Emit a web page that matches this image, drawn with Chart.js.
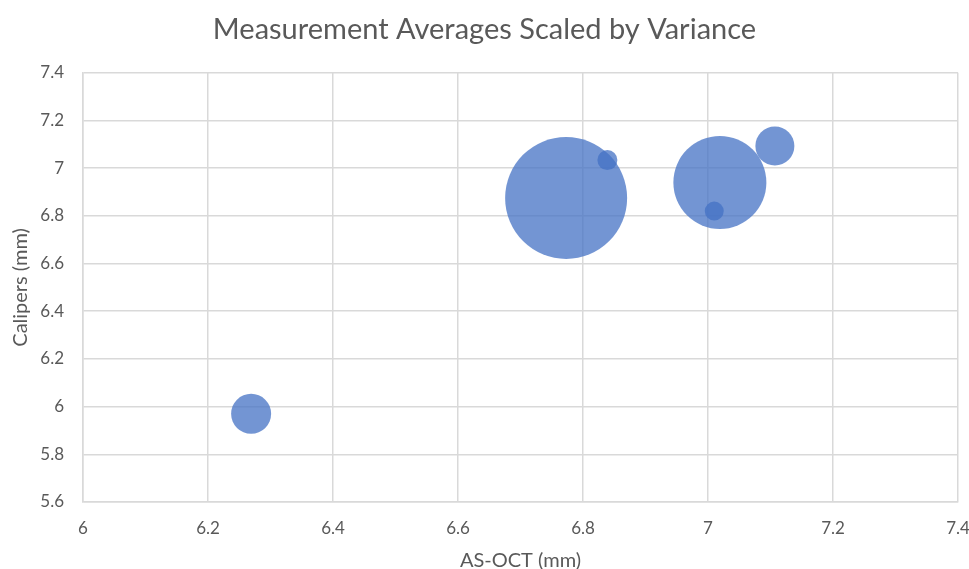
<!DOCTYPE html>
<html>
<head>
<meta charset="utf-8">
<script src="https://cdn.jsdelivr.net/npm/chart.js@4.4.0/dist/chart.umd.min.js"></script>
<style>
  html, body { margin: 0; padding: 0; background: #fff; }
  #wrap { width: 969px; height: 569px; }
</style>
</head>
<body>
<div id="wrap"><canvas id="bubbleChart" width="969" height="569"></canvas></div>
<script>
// ค่าเฉลี่ยจากภาพ: x = AS-OCT, y = Calipers, r = ขนาดฟอง (px ตาม variance)
const asOct    = [6.269, 6.773, 6.839, 7.019, 7.010, 7.107];
const calipers = [5.970, 6.875, 7.034, 6.940, 6.820, 7.093];
const bubbleR  = [20, 61, 10, 46.5, 9.5, 19.5];

const xTicks = [6, 6.2, 6.4, 6.6, 6.8, 7, 7.2, 7.4];
const yTicks = [5.6, 5.8, 6, 6.2, 6.4, 6.6, 6.8, 7, 7.2, 7.4];

const TEXT = '#595959';
const GRID = '#d9d9d9';
const FONT = 'Lato, "Open Sans", sans-serif';

const points = asOct.map((x, i) => ({ x, y: calipers[i], r: bubbleR[i] }));

new Chart(document.getElementById('bubbleChart'), {
  type: 'bubble',
  data: {
    datasets: [{
      data: points,
      backgroundColor: 'rgba(68,114,196,0.75)',
      borderColor: 'rgba(68,114,196,0)',
      borderWidth: 0
    }]
  },
  options: {
    responsive: false,
    animation: false,
    // ปิด autoPadding ไม่งั้น plot หดเพราะรัศมีฟองใหญ่
    layout: { autoPadding: false, padding: 0 },
    plugins: {
      legend: { display: false },
      tooltip: { enabled: false },
      title: {
        display: true,
        text: 'Measurement Averages Scaled by Variance',
        color: TEXT,
        font: { family: FONT, size: 29, weight: 'normal' },
        padding: { top: 12, bottom: 26 }
      }
    },
    scales: {
      x: {
        type: 'linear',
        min: 6, max: 7.4,
        afterBuildTicks: s => { s.ticks = xTicks.map(v => ({ value: v })); },
        afterFit: s => { s.height = 67; s.paddingLeft = 0; s.paddingRight = 11; },
        grid: { color: GRID, lineWidth: 1.5, drawTicks: false },
        border: { color: GRID, width: 1.5 },
        ticks: { color: TEXT, font: { family: FONT, size: 17 }, padding: 16, callback: v => String(+v.toFixed(1)) },
        title: { display: true, text: 'AS-OCT (mm)', color: TEXT, font: { family: FONT, size: 20 }, padding: { top: 0, bottom: -4 } }
      },
      y: {
        type: 'linear',
        min: 5.6, max: 7.4,
        afterBuildTicks: s => { s.ticks = yTicks.map(v => ({ value: v })); },
        afterFit: s => { s.width = 83; },
        grid: { color: GRID, lineWidth: 1.5, drawTicks: false },
        border: { color: GRID, width: 1.5 },
        ticks: { color: TEXT, font: { family: FONT, size: 17 }, padding: 19, callback: v => String(+v.toFixed(1)) },
        title: { display: true, text: 'Calipers (mm)', color: TEXT, font: { family: FONT, size: 20 }, padding: { top: 9, bottom: 0 } }
      }
    }
  }
});
</script>
</body>
</html>
